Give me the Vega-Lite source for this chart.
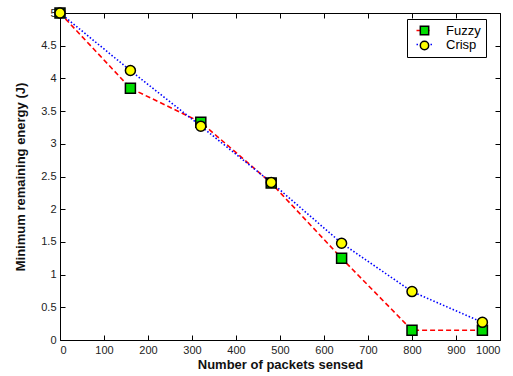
{
  "$schema": "https://vega.github.io/schema/vega-lite/v6.json",
  "width": 440,
  "height": 327,
  "autosize": {"type": "none"},
  "padding": {"left": 60, "top": 13, "right": 13, "bottom": 36},
  "background": "white",
  "config": {
    "font": "Liberation Sans",
    "view": {"stroke": "black", "strokeWidth": 1},
    "axis": {
      "labelFont": "Liberation Sans",
      "labelFontSize": 11,
      "labelColor": "#222222",
      "titleFont": "Liberation Sans",
      "titleFontSize": 13,
      "titleFontWeight": "bold",
      "titleColor": "#111111",
      "grid": false,
      "domain": false,
      "tickColor": "black",
      "tickSize": -5,
      "labelPadding": 9
    }
  },
  "data": {
    "values": [
      {"series": "Fuzzy", "packets": 0, "energy": 5.0},
      {"series": "Fuzzy", "packets": 160, "energy": 3.85},
      {"series": "Fuzzy", "packets": 320, "energy": 3.33},
      {"series": "Fuzzy", "packets": 480, "energy": 2.4},
      {"series": "Fuzzy", "packets": 640, "energy": 1.25},
      {"series": "Fuzzy", "packets": 800, "energy": 0.15},
      {"series": "Fuzzy", "packets": 960, "energy": 0.15},
      {"series": "Crisp", "packets": 0, "energy": 5.0},
      {"series": "Crisp", "packets": 160, "energy": 4.12},
      {"series": "Crisp", "packets": 320, "energy": 3.27},
      {"series": "Crisp", "packets": 480, "energy": 2.41},
      {"series": "Crisp", "packets": 640, "energy": 1.48},
      {"series": "Crisp", "packets": 800, "energy": 0.74},
      {"series": "Crisp", "packets": 960, "energy": 0.27}
    ]
  },
  "resolve": {"axis": {"x": "independent", "y": "independent"}},
  "layer": [
    {
      "mark": {"type": "line", "strokeWidth": 1.6},
      "encoding": {
        "x": {
          "field": "packets", "type": "quantitative",
          "scale": {"domain": [0, 1000], "nice": false},
          "axis": {"orient": "bottom", "values": [0,100,200,300,400,500,600,700,800,900,1000], "format": "d", "title": "Number of packets sensed", "titlePadding": 3}
        },
        "y": {
          "field": "energy", "type": "quantitative",
          "scale": {"domain": [0, 5], "nice": false},
          "axis": {"orient": "left", "values": [0,0.5,1,1.5,2,2.5,3,3.5,4,4.5,5], "format": "~g", "title": "Minimum remaining energy (J)", "titlePadding": 13}
        },
        "stroke": {
          "field": "series", "type": "nominal", "sort": "descending",
          "scale": {"range": ["#ff0000", "#0000ff"]},
          "legend": {
            "orient": "none", "legendX": 347, "legendY": 6, "title": null,
            "symbolType": "M-2,0H2", "symbolSize": 64, "symbolOffset": 6, "symbolStrokeWidth": 1.6,
            "strokeColor": "black", "fillColor": "white", "padding": 5,
            "labelFontSize": 13, "labelColor": "black", "labelOffset": 15, "labelExpr": "datum.label + '  '", "rowPadding": 0, "zindex": 1
          }
        },
        "strokeDash": {
          "field": "series", "type": "nominal", "sort": "descending",
          "scale": {"range": [[5, 3], [1.5, 2]]},
          "legend": {
            "orient": "none", "legendX": 347, "legendY": 6, "title": null,
            "symbolType": "M-2,0H2", "symbolSize": 64, "symbolOffset": 6, "symbolStrokeWidth": 1.6,
            "strokeColor": "black", "fillColor": "white", "padding": 5,
            "labelFontSize": 13, "labelColor": "black", "labelOffset": 15, "labelExpr": "datum.label + '  '", "rowPadding": 0, "zindex": 1
          }
        }
      }
    },
    {
      "mark": {"type": "point", "filled": true, "opacity": 1, "stroke": "black", "strokeWidth": 1.5, "size": 100, "clip": false},
      "encoding": {
        "x": {
          "field": "packets", "type": "quantitative",
          "scale": {"domain": [0, 1000], "nice": false},
          "axis": {"orient": "top", "values": [0,100,200,300,400,500,600,700,800,900,1000], "labels": false, "title": null}
        },
        "y": {
          "field": "energy", "type": "quantitative",
          "scale": {"domain": [0, 5], "nice": false},
          "axis": {"orient": "right", "values": [0,0.5,1,1.5,2,2.5,3,3.5,4,4.5,5], "labels": false, "title": null}
        },
        "fill": {
          "field": "series", "type": "nominal",
          "scale": {"domain": ["Fuzzy", "Crisp"], "range": ["#00dd00", "#ffff00"]},
          "legend": {
            "orient": "none", "legendX": 353, "legendY": 6, "title": null,
            "symbolSize": 70, "padding": 5, "labelFontSize": 13, "labelExpr": "''", "rowPadding": 0, "zindex": 2,
            "encode": {"symbols": {"update": {"stroke": {"value": "black"}, "strokeWidth": {"value": 1.5}}}}
          }
        },
        "shape": {
          "field": "series", "type": "nominal",
          "scale": {"domain": ["Fuzzy", "Crisp"], "range": ["square", "circle"]},
          "legend": {
            "orient": "none", "legendX": 353, "legendY": 6, "title": null,
            "symbolSize": 70, "padding": 5, "labelFontSize": 13, "labelExpr": "''", "rowPadding": 0, "zindex": 2,
            "encode": {"symbols": {"update": {"stroke": {"value": "black"}, "strokeWidth": {"value": 1.5}}}}
          }
        }
      }
    }
  ]
}
